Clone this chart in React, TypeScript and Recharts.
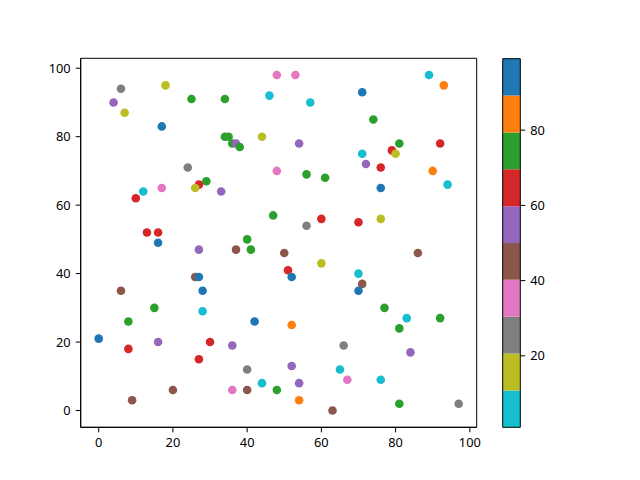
import React from 'react';
import {
  ScatterChart,
  Scatter,
  XAxis,
  YAxis,
  ReferenceArea,
} from 'recharts';

// point positions and colour values
const xs = [
  0, 6, 4, 7, 18, 17, 25, 34, 46, 48, 53, 57, 71, 89, 93, 74, 54, 34, 35, 36,
  37, 38, 44, 48, 24, 29, 27, 26, 33, 12, 10, 17, 47, 13, 16, 16, 40, 79, 81, 80,
  92, 71, 72, 76, 90, 94, 76, 56, 61, 56, 60, 70, 76, 27, 37, 41, 50, 26, 27, 6,
  28, 15, 28, 8, 42, 16, 30, 36, 8, 27, 40, 44, 48, 20, 36, 40, 9, 86, 60, 51,
  52, 70, 71, 70, 77, 83, 92, 81, 52, 66, 84, 52, 65, 67, 76, 54, 54, 63, 81, 97,
];
const ys = [
  21, 94, 90, 87, 95, 83, 91, 91, 92, 98, 98, 90, 93, 98, 95, 85, 78, 80, 80, 78,
  78, 77, 80, 70, 71, 67, 66, 65, 64, 64, 62, 65, 57, 52, 52, 49, 50, 76, 78, 75,
  78, 75, 72, 71, 70, 66, 65, 69, 68, 54, 56, 55, 56, 47, 47, 47, 46, 39, 39, 35,
  35, 30, 29, 26, 26, 20, 20, 19, 18, 15, 12, 8, 6, 6, 6, 6, 3, 46, 43, 41,
  39, 40, 37, 35, 30, 27, 27, 24, 25, 19, 17, 13, 12, 9, 9, 8, 3, 0, 2, 2,
];
const cs = [
  95, 25, 55, 15, 17, 93, 74, 76, 3, 35, 37, 6, 97, 8, 84, 72, 52, 71, 78, 73,
  57, 77, 19, 33, 27, 75, 63, 12, 53, 2, 66, 39, 79, 61, 68, 91, 70, 64, 73, 14,
  62, 9, 56, 67, 86, 4, 94, 71, 76, 22, 65, 60, 18, 51, 44, 78, 48, 42, 96, 46,
  92, 74, 7, 72, 98, 58, 69, 54, 63, 67, 29, 1, 77, 43, 31, 47, 41, 49, 11, 61,
  90, 5, 45, 99, 75, 10, 71, 79, 82, 24, 55, 51, 3, 36, 6, 58, 88, 43, 70, 28,
];

// tab10, reversed (low values cyan, high values blue)
const palette = [
  '#17becf', '#bcbd22', '#7f7f7f', '#e377c2', '#8c564b',
  '#9467bd', '#d62728', '#2ca02c', '#ff7f0e', '#1f77b4',
];

const xTicks = [0, 20, 40, 60, 80, 100];
const yTicks = [0, 20, 40, 60, 80, 100];
const cbTicks = [20, 40, 60, 80];

const cMin = Math.min(...cs);
const cMax = Math.max(...cs);
const binSize = (cMax - cMin) / palette.length;

const colorOf = (c: number) => {
  const i = Math.floor((c - cMin) / binSize);
  return palette[Math.max(0, Math.min(palette.length - 1, i))];
};

const points = xs.map((x, i) => ({ x, y: ys[i], c: cs[i] }));
const bins = palette.map((color, i) => ({
  lo: cMin + i * binSize,
  hi: cMin + (i + 1) * binSize,
  color,
}));
// invisible anchor points so the colorbar axes have something to scale
const cbAnchors = [{ x: 0, y: cMin }, { x: 1, y: cMax }];

// matplotlib-style 5% margins
const xDomain = [-4.85, 101.85];
const yDomain = [-4.9, 102.9];

const font = { fontFamily: '"Noto Sans", sans-serif', fontSize: 12.8, fill: '#000' };

const Dot = (props: any) => (
  <circle cx={props.cx} cy={props.cy} r={4.3} fill={colorOf(props.payload.c)} />
);
const NoDot = () => <g />;

export default function App() {
  return (
    <div style={{ position: 'absolute', left: 0, top: 0, width: 640, height: 480, background: '#fff' }}>
      <div style={{ position: 'absolute', left: 0, top: 0 }}>
        <ScatterChart
          width={640}
          height={480}
          margin={{ top: 58.3, right: 163.3, bottom: 22.7, left: 30.7 }}
        >
          <XAxis
            type="number"
            dataKey="x"
            domain={xDomain}
            ticks={xTicks}
            allowDataOverflow
            height={30}
            tick={font}
            tickSize={5}
            tickMargin={6}
            stroke="#000"
            tickLine={{ stroke: '#000' }}
          />
          <YAxis
            type="number"
            dataKey="y"
            domain={yDomain}
            ticks={yTicks}
            allowDataOverflow
            width={50}
            tick={font}
            tickSize={5}
            tickMargin={5}
            stroke="#000"
            tickLine={{ stroke: '#000' }}
          />
          <ReferenceArea
            x1={xDomain[0]}
            x2={xDomain[1]}
            y1={yDomain[0]}
            y2={yDomain[1]}
            fill="none"
            stroke="#000"
            strokeWidth={1}
            ifOverflow="visible"
          />
          <Scatter data={points} shape={Dot} isAnimationActive={false} />
        </ScatterChart>
      </div>
      <div style={{ position: 'absolute', left: 0, top: 0 }}>
        <ScatterChart
          width={640}
          height={480}
          margin={{ top: 58.7, right: 79.7, bottom: 52.7, left: 502.7 }}
        >
          <XAxis type="number" dataKey="x" domain={[0, 1]} hide height={0} />
          <YAxis
            type="number"
            dataKey="y"
            orientation="right"
            domain={[cMin, cMax]}
            ticks={cbTicks}
            width={40}
            tick={{ ...font, textAnchor: 'start' }}
            tickSize={5}
            tickMargin={5}
            axisLine={false}
            tickLine={{ stroke: '#000' }}
          />
          {bins.map((b) => (
            <ReferenceArea
              key={b.lo}
              x1={0}
              x2={1}
              y1={b.lo}
              y2={b.hi}
              fill={b.color}
              fillOpacity={1}
              stroke="none"
            />
          ))}
          <ReferenceArea
            x1={0}
            x2={1}
            y1={cMin}
            y2={cMax}
            fill="none"
            stroke="#000"
            strokeWidth={1}
            ifOverflow="visible"
          />
          <Scatter data={cbAnchors} shape={NoDot} isAnimationActive={false} />
        </ScatterChart>
      </div>
    </div>
  );
}
